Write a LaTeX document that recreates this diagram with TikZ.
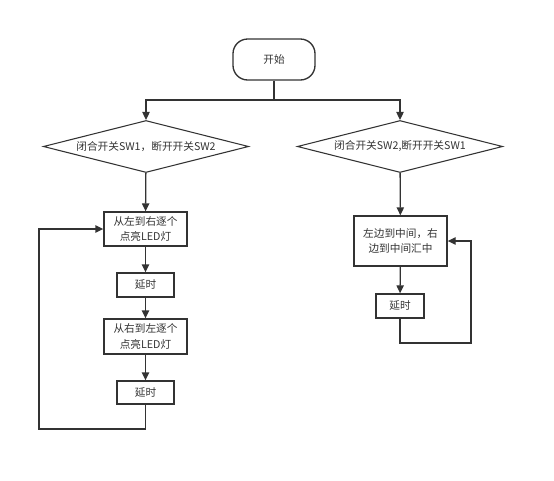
\documentclass[tikz,border=0pt]{standalone}
\usepackage{fontspec}
\newfontfamily\cjk{Noto Sans CJK SC}
\usetikzlibrary{arrows.meta,shapes.geometric}
\definecolor{linegray}{HTML}{333333}
\tikzset{
  every node/.style={font=\cjk\fontsize{8}{11.5}\selectfont,text=linegray},
  flow/.style={draw=linegray,line width=1pt,-{Triangle[length=6pt,width=5.5pt]}},
  plain/.style={draw=linegray,line width=1pt},
  stepbox/.style={draw=linegray,line width=1pt,rectangle,align=center,inner sep=0pt},
  choice/.style={draw=linegray,line width=0.8pt,diamond,inner sep=0pt,aspect=4,
    minimum width=154pt,minimum height=39pt}
}
\begin{document}
\begin{tikzpicture}[x=0.75pt,y=-0.75pt]
\useasboundingbox (0,0) rectangle (554,480);
\node[stepbox,rounded corners=11pt,minimum width=61.5pt,minimum height=30.75pt] (start) at (274,59.5) {开始};
\coordinate (split) at (274,100);
\node[choice] (left) at (146,146.5) {闭合开关SW1，断开开关SW2};
\node[choice] (right) at (400,146.5) {闭合开关SW2,断开开关SW1};
% left branch
\node[stepbox,minimum width=62.25pt,minimum height=25.5pt] (lrun) at (145.5,229) {从左到右逐个\\点亮LED灯};
\node[stepbox,minimum width=42.75pt,minimum height=18pt] (lwait) at (145.5,285) {延时};
\node[stepbox,minimum width=62.25pt,minimum height=26.25pt] (lback) at (145.5,336.5) {从右到左逐个\\点亮LED灯};
\node[stepbox,minimum width=42.75pt,minimum height=17.25pt] (lwaittwo) at (145.5,392.5) {延时};
\coordinate (lloop) at (39,429);
% right branch
\node[stepbox,minimum width=69.75pt,minimum height=37.5pt] (rrun) at (400.5,241) {左边到中间，右\\边到中间汇中};
\node[stepbox,minimum width=36pt,minimum height=18pt] (rwait) at (400,306) {延时};
\coordinate (rloop) at (471,343);

\draw[plain] (start) -- (split);
\draw[flow] (split) -| (left);
\draw[flow] (split) -| (right);
\draw[flow] (left) -- (lrun);
\draw[flow] (lrun) -- (lwait);
\draw[flow] (lwait) -- (lback);
\draw[flow] (lback) -- (lwaittwo);
\draw[flow] (lwaittwo) |- (lloop) |- (lrun);
\draw[flow] (right) -- (rrun);
\draw[flow] (rrun) -- (rwait);
\draw[flow] (rwait) |- (rloop) |- (rrun.east);
\end{tikzpicture}
\end{document}
